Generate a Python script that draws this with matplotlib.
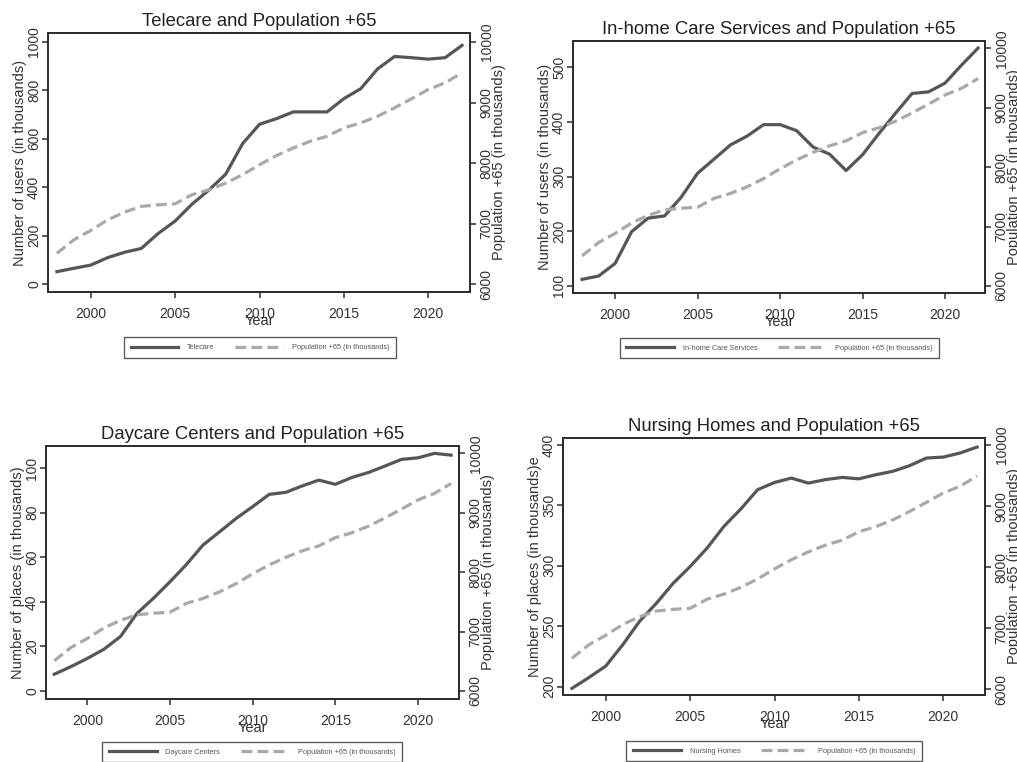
import numpy as np
import matplotlib.pyplot as plt

plt.rcParams['font.family'] = ['Liberation Sans', 'DejaVu Sans']

# Yearly series, 1998-2022 (all in thousands)
years = np.arange(1998, 2023)

pop65 = [6508, 6730, 6884, 7060, 7188, 7282, 7309, 7326, 7475, 7558,
         7669, 7807, 7972, 8122, 8249, 8359, 8442, 8580, 8663, 8773,
         8912, 9061, 9215, 9326, 9492]

telecare = [51, 65, 78, 109, 131, 147, 209, 260, 330, 388,
            454, 580, 660, 683, 711, 711, 711, 766, 807, 889,
            940, 935, 929, 935, 986]

inhome = [112, 118, 141, 199, 224, 228, 262, 306, 332, 358,
          374, 395, 395, 384, 354, 341, 311, 340, 379, 416,
          452, 455, 471, 504, 535]

daycare = [7.5, 10.9, 14.6, 18.7, 24.4, 34.8, 41.6, 49.0, 56.8, 65.5,
           71.4, 77.4, 82.7, 88.2, 89.1, 92.0, 94.6, 92.7, 95.8, 98.0,
           100.9, 103.9, 104.6, 106.6, 105.8]

nursing = [198.6, 207.5, 217.0, 234.5, 254.0, 269.0, 285.6, 299.4, 314.6, 332.6,
           347.0, 363.0, 369.0, 372.6, 368.5, 371.3, 373.2, 372.0, 375.4, 378.2,
           382.9, 389.2, 390.0, 393.4, 398.3]

W, H = 1017, 762
fig = plt.figure(figsize=(W / 100, H / 100), dpi=100)

DARK = '#565656'
LIGHT = '#a9a9a9'
AXC = '#2e2e2e'


def px_rect(x0, y0, x1, y1):
    return [x0 / W, 1 - y1 / H, (x1 - x0) / W, (y1 - y0) / H]


def style_axis(a):
    for s in a.spines.values():
        s.set_color(AXC)
        s.set_linewidth(1.3)
    a.tick_params(colors=AXC, labelcolor='#333333', length=4, width=1.1,
                  labelsize=10)


def panel(rect, values, name, title, ylabel, ylim, yticks, ylim2, xlim, leg_xy):
    ax = fig.add_axes(px_rect(*rect))
    ax2 = ax.twinx()
    l1, = ax.plot(years, values, color=DARK, lw=2.3, solid_joinstyle='round')
    l2, = ax2.plot(years, pop65, color=LIGHT, lw=2.3, dashes=(3.4, 1.6))

    ax.set_xlim(*xlim)
    ax.set_ylim(*ylim)
    ax.set_yticks(yticks)
    ax.set_xticks([2000, 2005, 2010, 2015, 2020])
    ax2.set_ylim(*ylim2)
    ax2.set_yticks([6000, 7000, 8000, 9000, 10000])

    for a in (ax, ax2):
        style_axis(a)
    ax.tick_params(axis='x', pad=7)
    ax.tick_params(axis='y', labelrotation=90, pad=1)
    ax2.tick_params(axis='y', labelrotation=90, pad=3)
    for lab in ax.get_yticklabels() + ax2.get_yticklabels():
        lab.set_va('center')

    ax.set_title(title, fontsize=13.3, color='#222222', pad=5)
    ax.set_xlabel('Year', fontsize=10.5, color='#333333', labelpad=-5)
    ax.set_ylabel(ylabel, fontsize=10.5, color='#333333', labelpad=0)
    ax2.set_ylabel('Population +65 (in thousands)', fontsize=10.5,
                   color='#333333', labelpad=-1)

    leg = ax2.legend([l1, l2], [name, 'Population +65 (in thousands)'],
                     loc='center', bbox_to_anchor=(leg_xy[0] / W, 1 - leg_xy[1] / H),
                     bbox_transform=fig.transFigure, ncol=2, fontsize=5.3,
                     frameon=True, fancybox=False, edgecolor='#333333',
                     handlelength=6.5, handletextpad=1.2, columnspacing=2.8,
                     borderpad=0.9)
    leg.get_frame().set_linewidth(1.0)
    for t in leg.get_texts():
        t.set_color('#555555')
    return ax


panel((48, 33, 470, 292), telecare, 'Telecare', 'Telecare and Population +65',
      'Number of users (in thousands)', (-33, 1037),
      [0, 200, 400, 600, 800, 1000], (5868, 10149), (1997.47, 2022.47), (260, 347.5))

panel((573, 41, 985, 293), inhome, 'In-home Care Services',
      'In-home Care Services and Population +65',
      'Number of users (in thousands)', (87, 548),
      [100, 200, 300, 400, 500], (5882, 10123), (1997.45, 2022.42), (779.5, 348))

panel((46, 446, 459, 699), daycare, 'Daycare Centers',
      'Daycare Centers and Population +65',
      'Number of places (in thousands)', (-3.6, 109.9),
      [0, 20, 40, 60, 80, 100], (5865, 10123), (1997.5, 2022.48), (252, 752))

panel((563, 438, 985, 695), nursing, 'Nursing Homes',
      'Nursing Homes and Population +65',
      'Number of places (in thousands)e', (193.1, 405.8),
      [200, 250, 300, 350, 400], (5907, 10115), (1997.47, 2022.47), (774, 751))

fig.savefig('out.png', dpi=100, facecolor='white')
